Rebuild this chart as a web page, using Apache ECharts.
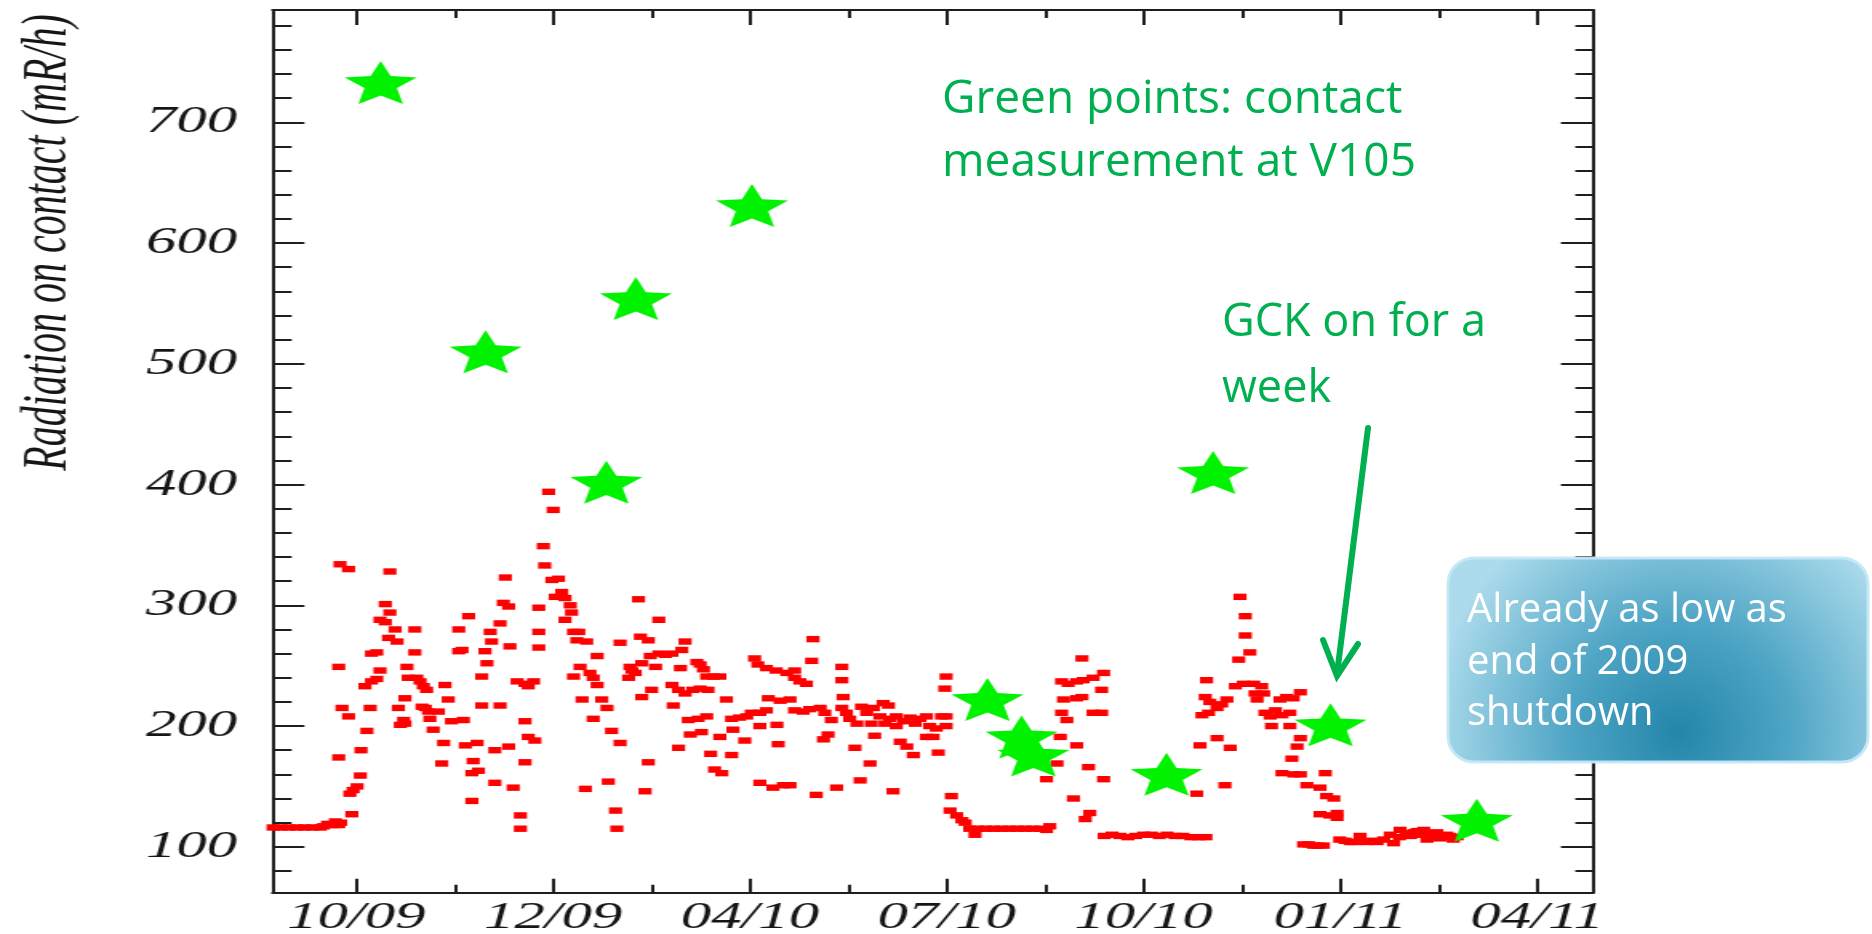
<!DOCTYPE html>
<html>
<head>
<meta charset="utf-8">
<title>Radiation on contact at V105</title>
<script src="https://cdn.jsdelivr.net/npm/echarts@6/dist/echarts.min.js"></script>
<style>
  html, body { margin: 0; padding: 0; background: #fff; overflow: hidden; }
  #wrap { position: relative; width: 1872px; height: 934px; }
  /* the ROOT-style plot is drawn narrow and widened 1.6x, like the exported figure */
  #plot { position: absolute; left: 0; top: 0; width: 1170px; height: 934px;
          transform: scaleX(1.6); transform-origin: 0 0; }
  #notes { position: absolute; left: 0; top: 0; width: 1872px; height: 934px; }
</style>
</head>
<body>
<div id="wrap">
  <div id="plot"></div>
  <div id="notes"></div>
</div>
<script>
// x unit: months after the "10/09" tick; ticks are one quarter apart
const xTickValues = [0, 3, 6, 9, 12, 15, 18];
const xTickLabels = ['10/09', '12/09', '04/10', '07/10', '10/10', '01/11', '04/11'];
const xMinorTicks = [1.5, 4.5, 7.5, 10.5, 13.5, 16.5];
const yTickValues = [100, 200, 300, 400, 500, 600, 700];
const yMinorTicks = [80, 120, 140, 160, 180, 220, 240, 260, 280, 320, 340, 360, 380,
                     420, 440, 460, 480, 520, 540, 560, 580, 620, 640, 660, 680,
                     720, 740, 760, 780];

// daily radiation readings (mR/h)
const doseRate = [
  [-1.27,116],[-1.15,116],[-1.03,116],[-0.91,116],[-0.79,116],[-0.67,116],[-0.55,116],
  [-0.50,117],[-0.44,119],[-0.38,118],[-0.32,121],[-0.27,118],[-0.24,120],
  [-0.27,249],[-0.27,174],[-0.25,334],[-0.12,330],[-0.22,215],[-0.12,208],[-0.07,127],
  [-0.10,144],[-0.05,147],[0.01,150],[0.06,159],[0.07,180],[0.16,196],[0.13,233],
  [0.23,237],[0.31,239],[0.21,215],[0.23,260],[0.31,261],[0.36,246],[0.36,288],
  [0.44,286],[0.44,301],[0.51,294],[0.51,328],[0.49,273],[0.62,270],[0.59,280],
  [0.64,215],[0.67,201],[0.74,202],[0.72,205],[0.74,223],[0.77,249],[0.79,240],
  [0.89,280],[0.89,261],[0.92,240],[0.97,237],[1.02,233],[1.07,230],[1.00,216],
  [1.05,215],[1.10,212],[1.12,206],[1.17,197],[1.25,212],[1.30,169],[1.33,186],
  [1.35,234],[1.40,222],[1.45,204],[1.56,280],[1.56,262],[1.61,263],[1.63,205],
  [1.66,184],[1.71,291],[1.76,161],[1.76,138],[1.78,171],[1.84,186],[1.91,241],
  [1.86,163],[1.91,217],[1.96,262],[1.99,252],[2.04,278],[2.06,270],[2.11,153],
  [2.11,180],[2.19,217],[2.19,285],[2.24,302],[2.32,299],[2.27,323],[2.34,266],
  [2.32,183],[2.39,149],[2.45,237],[2.57,235],[2.62,233],[2.70,237],[2.50,126],
  [2.50,115],[2.57,204],[2.62,191],[2.72,188],[2.57,170],[2.78,298],[2.78,278],
  [2.78,265],[2.85,349],[2.87,333],[2.93,394],[3.00,379],[2.98,321],[3.08,322],
  [3.03,307],[3.13,311],[3.18,306],[3.18,288],[3.26,300],[3.28,294],[3.31,278],
  [3.39,278],[3.36,271],[3.51,270],[3.31,241],[3.41,249],[3.44,222],[3.49,148],
  [3.56,244],[3.61,240],[3.67,234],[3.67,258],[3.61,206],[3.74,222],[3.82,215],
  [3.84,154],[3.89,196],[3.95,130],[3.97,115],[4.02,186],[4.02,269],[4.17,249],
  [4.20,246],[4.15,240],[4.25,244],[4.35,252],[4.30,305],[4.33,274],[4.45,271],
  [4.35,224],[4.40,146],[4.45,170],[4.50,230],[4.61,288],[4.48,258],[4.61,260],
  [4.71,259],[4.81,260],[4.96,263],[4.56,249],[4.81,234],[4.91,230],[5.01,227],
  [4.83,217],[4.91,182],[4.94,248],[5.01,270],[5.06,205],[5.09,193],
  [5.19,253],[5.24,251],[5.29,247],[5.34,241],[5.44,241],[5.54,241],[5.13,230],
  [5.24,231],[5.36,230],[5.21,206],[5.34,208],[5.26,195],[5.40,177],[5.46,164],
  [5.57,161],[5.54,191],[5.64,222],[5.72,206],[5.84,207],[5.95,208],[6.02,211],
  [6.15,211],[6.25,213],[5.74,197],[5.72,176],[5.92,188],[6.07,256],[6.12,251],
  [6.25,248],[6.40,246],[6.15,200],[6.15,153],[6.35,149],[6.51,151],[6.61,151],
  [6.28,223],[6.46,221],[6.41,201],[6.43,185],[6.56,244],[6.68,240],[6.76,237],
  [6.86,235],[6.68,246],[6.61,222],[6.68,213],[6.81,212],[6.91,214],[6.96,272],
  [6.94,254],[7.01,143],[7.07,215],[7.14,211],[7.12,189],[7.19,193],[7.24,205],
  [7.32,149],[7.40,249],[7.40,238],[7.42,224],[7.40,215],[7.47,211],[7.52,206],
  [7.63,202],[7.60,182],[7.68,155],[7.70,216],[7.78,211],[7.83,169],[7.85,202],
  [7.90,192],[7.88,215],[7.98,208],[8.03,219],[8.11,217],[8.06,202],[8.18,146],
  [8.13,206],[8.23,200],[8.23,208],[8.34,204],[8.29,187],[8.39,183],[8.49,176],
  [8.44,207],[8.52,202],[8.59,206],[8.69,208],[8.69,191],[8.79,191],[8.74,200],
  [8.84,198],[8.87,178],[8.92,208],[8.99,208],[8.99,200],[8.99,241],[8.97,231],
  [9.07,142],[9.05,130],[9.15,126],[9.23,122],[9.28,120],[9.35,115],[9.43,110],
  [9.47,115],[9.59,115],[9.71,115],[9.83,115],[9.95,115],[10.07,115],[10.19,115],
  [10.31,115],[10.43,115],[10.52,114],[10.57,117],
  [10.52,156],[10.68,169],[10.73,191],[10.75,211],[10.78,222],[10.75,237],[10.85,235],
  [10.98,237],[11.08,238],[11.23,240],[11.06,256],[10.98,223],[11.06,224],[10.83,205],
  [10.93,140],[10.98,184],[11.16,166],[11.11,123],[11.18,128],[11.23,211],
  [11.39,244],[11.36,230],[11.36,211],[11.39,156],
  [11.40,109],[11.52,110],[11.64,109],[11.76,108],[11.88,109],[12.00,110],[12.12,110],
  [12.24,109],[12.36,110],[12.48,109],[12.60,109],[12.72,108],[12.84,108],[12.95,108],
  [12.81,144],[12.86,184],[12.96,238],[12.94,224],[13.01,220],[12.89,209],[12.99,211],
  [13.12,215],[13.19,218],[13.27,222],[13.12,190],[13.32,182],[13.24,151],[13.47,307],
  [13.55,291],[13.55,275],[13.62,261],[13.45,255],[13.40,233],[13.52,235],[13.68,235],
  [13.80,233],[13.70,227],[13.73,222],[13.83,227],[13.85,211],[13.93,208],[14.01,213],
  [13.95,200],[14.08,222],[14.18,224],[14.28,223],[14.39,228],[14.11,209],[14.23,211],
  [14.23,200],[14.39,190],[14.34,183],[14.26,173],[14.11,161],[14.29,160],[14.39,160],
  [14.49,151],[14.69,149],[14.77,161],[14.79,142],[14.90,140],[14.69,127],[14.84,126],
  [14.95,128],[14.95,124],
  [14.44,102],[14.52,102],[14.59,101],[14.66,101],[14.74,101],[14.99,106],[15.07,105],
  [15.15,104],[15.22,104],[15.30,109],[15.40,104],[15.48,105],[15.56,104],[15.66,106],
  [15.76,110],[15.81,103],[15.90,108],[15.91,114],[16.00,111],[16.07,109],[16.12,112],
  [16.17,113],[16.22,110],[16.27,114],[16.32,106],[16.37,111],[16.42,110],[16.47,112],
  [16.52,107],[16.57,108],[16.62,110],[16.67,109],[16.72,106],[16.78,108]
];

// contact measurements at V105 (mR/h)
const contactV105 = [
  [0.37,733],[1.97,510],[3.81,402],[4.26,554],[6.03,631],[9.62,222],
  [10.14,191],[10.32,176],[12.35,160],[13.06,410],[14.85,201],[17.08,122]
];

const X_MIN = -1.28, X_MAX = 18.85, Y_MIN = 62, Y_MAX = 793;
const FRAME = '#1e1e1e';
const STAR = 'path://M50 0 L63.23 31.8 L97.55 34.55 L71.4 56.95 L79.39 90.45 L50 72.5 ' +
             'L20.61 90.45 L28.6 56.95 L2.45 34.55 L36.77 31.8 Z';

function frameAxis(dim, position, ticks, tickLen, opts) {
  const o = opts || {};
  return Object.assign({
    type: 'value',
    position: position,
    min: dim === 'x' ? X_MIN : Y_MIN,
    max: dim === 'x' ? X_MAX : Y_MAX,
    axisLine: { show: !!o.line, onZero: false, lineStyle: { color: FRAME, width: 2 } },
    axisTick: { show: true, inside: true, length: tickLen, customValues: ticks,
                lineStyle: { color: FRAME, width: 2 } },
    axisLabel: { show: false },
    splitLine: { show: false }
  }, o.extra || {});
}

const labelFont = {
  fontFamily: '"Liberation Serif", "Times New Roman", serif',
  fontStyle: 'italic',
  fontSize: 38,
  color: '#151515'
};

const xAxes = [
  frameAxis('x', 'bottom', xTickValues, 14, { line: true, extra: {
    axisLabel: Object.assign({
      show: true, margin: 6, customValues: xTickValues,
      formatter: v => xTickLabels[xTickValues.indexOf(v)]
    }, labelFont)
  }}),
  frameAxis('x', 'bottom', xMinorTicks, 8),
  frameAxis('x', 'top', xTickValues, 15, { line: true }),
  frameAxis('x', 'top', xMinorTicks, 8)
];

const yAxes = [
  frameAxis('y', 'left', yTickValues, 20, { line: true, extra: {
    axisLabel: Object.assign({
      show: true, margin: 22, customValues: yTickValues
    }, labelFont)
  }}),
  frameAxis('y', 'left', yMinorTicks, 12),
  frameAxis('y', 'right', yTickValues, 20, { line: true }),
  frameAxis('y', 'right', yMinorTicks, 11)
];

const plot = echarts.init(document.getElementById('plot'), null, { renderer: 'canvas' });
plot.setOption({
  animation: false,
  backgroundColor: '#ffffff',
  grid: { left: 170.3, right: 174.4, top: 10, bottom: 41.3, containLabel: false,
          outerBoundsMode: 'none' },
  xAxis: xAxes,
  yAxis: yAxes,
  graphic: [{
    type: 'text',
    x: 30, y: 242.5,
    rotation: Math.PI / 2,
    style: {
      text: 'Radiation on contact (mR/h)',
      fontFamily: '"Liberation Serif", "Times New Roman", serif',
      fontStyle: 'italic',
      fontSize: 40,
      fill: '#151515',
      align: 'center',
      verticalAlign: 'middle'
    }
  }],
  series: [
    {
      name: 'Radiation on contact',
      type: 'scatter',
      xAxisIndex: 0, yAxisIndex: 0,
      data: doseRate,
      symbol: 'rect',
      symbolSize: [8.2, 6.4],
      itemStyle: { color: '#ff0000', opacity: 1 },
      silent: true,
      z: 2
    },
    {
      name: 'Contact measurement at V105',
      type: 'scatter',
      xAxisIndex: 0, yAxisIndex: 0,
      data: contactV105,
      symbol: STAR,
      symbolSize: [45, 43],
      itemStyle: { color: '#00f200', opacity: 1 },
      silent: true,
      z: 3
    }
  ]
});

// callouts laid over the plot
const GREEN = '#00b050';
const calloutFont = '"Open Sans", "Liberation Sans", sans-serif';
const notes = echarts.init(document.getElementById('notes'), null, { renderer: 'canvas' });
notes.setOption({
  animation: false,
  graphic: [
    { type: 'text', x: 942, y: 100,
      style: { text: 'Green points: contact', fontFamily: calloutFont, fontSize: 46,
               fill: GREEN, align: 'left', verticalAlign: 'middle' } },
    { type: 'text', x: 942, y: 163,
      style: { text: 'measurement at V105', fontFamily: calloutFont, fontSize: 46,
               fill: GREEN, align: 'left', verticalAlign: 'middle' } },
    { type: 'text', x: 1222, y: 323,
      style: { text: 'GCK on for a', fontFamily: calloutFont, fontSize: 45,
               fill: GREEN, align: 'left', verticalAlign: 'middle' } },
    { type: 'text', x: 1222, y: 389,
      style: { text: 'week', fontFamily: calloutFont, fontSize: 45,
               fill: GREEN, align: 'left', verticalAlign: 'middle' } },
    { type: 'line',
      shape: { x1: 1368, y1: 428, x2: 1337, y2: 674 },
      style: { stroke: GREEN, lineWidth: 6, lineCap: 'round' } },
    { type: 'polyline',
      shape: { points: [[1323, 640], [1337, 676], [1358, 644]] },
      style: { stroke: GREEN, lineWidth: 6, lineCap: 'round', lineJoin: 'miter', fill: null } },
    { type: 'rect',
      shape: { x: 1448, y: 558, width: 420, height: 204, r: 26 },
      style: {
        fill: {
          type: 'radial', x: 0.55, y: 0.85, r: 1.2,
          colorStops: [
            { offset: 0, color: '#2386aa' },
            { offset: 0.45, color: '#4fa5c5' },
            { offset: 1, color: '#acdbec' }
          ]
        },
        stroke: 'rgba(196,232,245,0.95)',
        lineWidth: 3
      } },
    { type: 'text', x: 1467, y: 611,
      style: { text: 'Already as low as', fontFamily: calloutFont, fontSize: 40,
               fill: '#ffffff', align: 'left', verticalAlign: 'middle' } },
    { type: 'text', x: 1467, y: 663,
      style: { text: 'end of 2009', fontFamily: calloutFont, fontSize: 40,
               fill: '#ffffff', align: 'left', verticalAlign: 'middle' } },
    { type: 'text', x: 1467, y: 714,
      style: { text: 'shutdown', fontFamily: calloutFont, fontSize: 40,
               fill: '#ffffff', align: 'left', verticalAlign: 'middle' } }
  ]
});
</script>
</body>
</html>
